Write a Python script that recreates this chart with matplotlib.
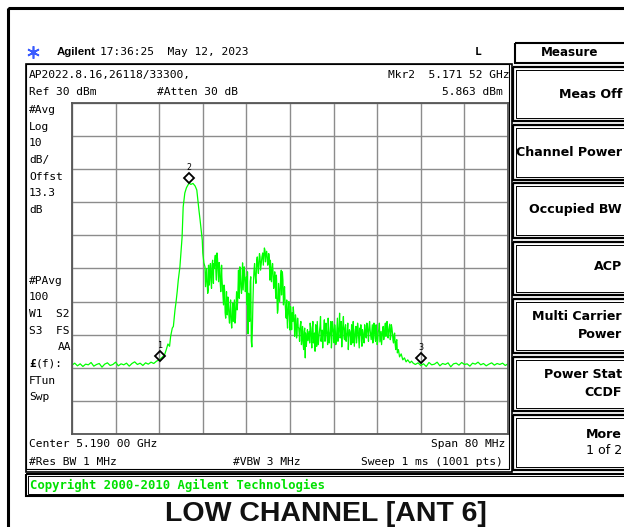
import matplotlib
matplotlib.use('Agg')
import numpy as np
import matplotlib.pyplot as plt
from matplotlib.patches import Rectangle
from matplotlib.transforms import offset_copy

# sweep: 5.150 - 5.230 GHz, ref 30 dBm, 10 dB/div
f_start, f_stop = 5150.0, 5230.0
ref_level, db_div = 30.0, 10.0

floor_lo_freq = [5150.0, 5150.5, 5151.0, 5151.5, 5152.0, 5152.5, 5153.0, 5153.5,
                 5154.0, 5154.5, 5155.0, 5155.5, 5156.0, 5156.5, 5157.0, 5157.5,
                 5158.0, 5158.5, 5159.0, 5159.5, 5160.0, 5160.5, 5161.0, 5161.5,
                 5162.0, 5162.5, 5163.0, 5163.5, 5164.0, 5164.5, 5165.0, 5165.5]
floor_lo_dbm = [-49.2, -48.6, -49.4, -48.8, -49.6, -48.9, -49.1, -48.4,
                -49.5, -49.0, -48.7, -49.8, -48.9, -48.5, -49.3, -49.0,
                -48.3, -49.4, -48.8, -49.1, -48.6, -49.5, -48.7, -48.2,
                -49.0, -48.6, -49.3, -48.5, -48.9, -48.3, -48.7, -48.0]

lobe_freq = [5166.0, 5166.5, 5167.0, 5167.3, 5167.6, 5167.9, 5168.1, 5168.4,
             5168.6, 5168.9, 5169.1, 5169.3, 5169.5, 5169.8, 5170.0, 5170.2,
             5170.4, 5170.7, 5171.0, 5171.3, 5171.5, 5171.8, 5172.2, 5172.6,
             5172.9, 5173.1, 5173.3, 5173.5, 5173.7, 5173.9, 5174.0, 5174.2]
lobe_dbm = [-47.6, -46.9, -46.0, -44.5, -42.8, -43.5, -40.5, -38.0,
            -37.5, -32.5, -30.0, -27.0, -23.5, -19.5, -15.0, -10.5,
            -1.4, 2.8, 4.4, 5.3, 5.8, 5.4, 5.7, 4.9,
            3.7, 0.5, -2.5, -5.3, -8.5, -11.4, -15.3, -18.3]

shoulder_freq = [5174.4, 5174.6, 5174.8, 5175.0, 5175.1, 5175.3, 5175.5, 5175.7,
                 5175.9, 5176.0, 5176.2, 5176.4, 5176.6, 5176.8, 5177.0, 5177.2,
                 5177.4, 5177.5, 5177.7, 5177.9, 5178.1, 5178.3, 5178.4, 5178.6,
                 5178.8, 5179.0, 5179.2, 5179.4, 5179.5, 5179.7, 5179.9, 5180.1,
                 5180.3, 5180.5, 5180.6, 5180.8, 5181.0, 5181.2, 5181.3, 5181.5,
                 5181.7, 5181.9, 5182.1, 5182.2, 5182.3, 5182.5, 5182.7, 5182.9,
                 5183.0, 5183.2, 5183.4, 5183.6, 5183.9, 5184.1, 5184.3, 5184.5,
                 5184.7, 5185.0, 5185.2, 5185.4, 5185.6, 5185.8, 5186.0, 5186.2,
                 5186.3, 5186.5, 5186.7, 5186.9, 5187.1, 5187.3, 5187.5, 5187.6,
                 5187.8, 5188.0, 5188.2, 5188.4, 5188.5, 5188.7, 5188.9, 5189.1,
                 5189.3, 5189.5, 5189.6, 5189.8, 5190.0, 5190.2, 5190.4, 5190.6,
                 5190.8, 5190.9, 5191.1, 5191.3, 5191.5, 5191.7, 5191.8, 5192.0,
                 5192.2, 5192.4, 5192.6, 5192.8, 5192.9, 5193.1, 5193.3]
shoulder_dbm = [-19.5, -23.0, -24.4, -26.5, -22.0, -20.5, -23.5, -19.0,
                -21.4, -18.5, -17.4, -20.8, -15.3, -20.5, -18.2, -24.4,
                -21.0, -22.6, -28.6, -25.0, -33.4, -29.0, -31.6, -28.6,
                -34.5, -32.5, -35.8, -35.0, -30.4, -33.0, -36.5, -31.0,
                -32.5, -23.5, -27.0, -19.5, -25.5, -24.4, -18.3, -23.0,
                -22.6, -26.0, -28.6, -21.0, -39.7, -33.4, -24.0, -42.0,
                -43.7, -30.0, -20.5, -22.0, -17.4, -19.5, -18.0, -16.5,
                -18.9, -15.3, -16.4, -14.4, -16.0, -15.9, -18.3, -17.0,
                -23.5, -20.0, -20.5, -21.4, -24.0, -25.5, -22.0, -28.6,
                -32.5, -27.0, -26.5, -20.5, -24.0, -23.5, -27.5, -30.4,
                -35.0, -36.5, -34.6, -30.0, -38.6, -34.0, -33.4, -31.6,
                -37.0, -38.6, -35.5, -39.7, -37.7, -40.0, -38.6, -36.0,
                -40.7, -42.5, -39.0, -47.0, -41.5, -40.7, -41.8]

# in-between sweep points of the shoulder (noise spikes)
shoulder_spk_freq = [5174.5, 5174.7, 5174.9, 5175.05, 5175.2, 5175.4, 5175.6, 5175.8,
                     5175.95, 5176.1, 5176.3, 5176.5, 5176.7, 5176.9, 5177.1, 5177.3,
                     5177.45, 5177.6, 5177.8, 5178.0, 5178.2, 5178.35, 5178.5, 5178.7,
                     5178.9, 5179.1, 5179.3, 5179.45, 5179.6, 5179.8, 5180.0, 5180.2,
                     5180.4, 5180.55, 5180.7, 5180.9, 5181.1, 5181.25, 5181.4, 5181.6,
                     5181.8, 5182.0, 5182.15, 5182.4, 5182.6, 5182.8, 5183.1, 5183.3,
                     5183.5, 5183.75, 5184.0, 5184.2, 5184.4, 5184.6, 5184.85, 5185.1,
                     5185.3, 5185.5, 5185.7, 5185.9, 5186.1, 5186.25, 5186.4, 5186.6,
                     5186.8, 5187.0, 5187.2, 5187.4, 5187.55, 5187.7, 5187.9, 5188.1,
                     5188.3, 5188.45, 5188.6, 5188.8, 5189.0, 5189.2, 5189.4, 5189.55,
                     5189.7, 5189.9, 5190.1, 5190.3, 5190.5, 5190.7, 5190.85, 5191.0,
                     5191.2, 5191.4, 5191.6, 5191.75, 5191.9, 5192.1, 5192.3, 5192.5,
                     5192.7, 5192.85, 5193.0, 5193.2]
shoulder_spk_dbm = [-25.5, -20.0, -27.5, -19.0, -25.0, -18.5, -26.0, -17.5,
                    -24.5, -20.0, -16.0, -23.5, -17.0, -24.0, -19.5, -27.0,
                    -19.0, -25.5, -31.0, -26.5, -35.0, -27.0, -34.0, -30.5,
                    -36.5, -29.5, -38.0, -32.0, -36.0, -29.5, -35.0, -27.0,
                    -30.0, -20.5, -29.0, -22.0, -27.5, -20.0, -26.5, -19.5,
                    -27.0, -22.5, -31.0, -27.5, -36.0, -22.5, -38.0, -24.0,
                    -18.5, -24.5, -16.5, -21.5, -15.5, -20.5, -16.5, -19.0,
                    -13.8, -18.0, -14.8, -19.0, -15.5, -21.0, -17.5, -24.0,
                    -18.5, -26.0, -21.0, -29.0, -24.0, -33.5, -24.5, -30.0,
                    -22.5, -28.0, -21.0, -31.0, -25.5, -33.0, -29.5, -38.0,
                    -32.0, -35.5, -31.5, -38.5, -36.0, -34.0, -40.5, -34.0,
                    -41.0, -35.0, -38.0, -42.0, -37.0, -43.0, -37.5, -44.5,
                    -38.0, -39.5, -43.5, -38.5]

plateau_freq = [5193.5, 5193.7, 5193.9, 5194.1, 5194.3, 5194.5, 5194.7, 5194.9,
                5195.1, 5195.3, 5195.5, 5195.7, 5195.9, 5196.1, 5196.3, 5196.5,
                5196.7, 5196.9, 5197.1, 5197.3, 5197.5, 5197.7, 5197.9, 5198.1,
                5198.3, 5198.5, 5198.7, 5198.9, 5199.1, 5199.3, 5199.5, 5199.7,
                5199.9, 5200.1, 5200.3, 5200.5, 5200.7, 5200.9, 5201.1, 5201.3,
                5201.5, 5201.7, 5201.9, 5202.1, 5202.3, 5202.5, 5202.7, 5202.9,
                5203.1, 5203.3, 5203.5, 5203.7, 5203.9, 5204.1, 5204.3, 5204.5,
                5204.7, 5204.9, 5205.1, 5205.3, 5205.5, 5205.7, 5205.9, 5206.1,
                5206.3, 5206.5, 5206.7, 5206.9, 5207.1, 5207.3, 5207.5, 5207.7,
                5207.9, 5208.1, 5208.3, 5208.5, 5208.7, 5208.9, 5209.1, 5209.3,
                5209.5, 5209.7, 5209.9, 5210.1, 5210.4, 5210.7, 5211.0, 5211.3,
                5211.6, 5212.0, 5212.3]
plateau_dbm = [-39.0, -36.5, -41.5, -38.0, -42.5, -39.5, -37.0, -43.5,
               -39.5, -41.0, -37.5, -42.0, -38.6, -40.5, -35.5, -41.8,
               -39.0, -43.0, -38.0, -40.1, -36.0, -41.0, -37.7, -42.5,
               -39.0, -41.8, -35.0, -40.0, -33.5, -39.5, -43.7, -37.0,
               -40.7, -38.0, -42.0, -39.5, -44.5, -38.5, -40.5, -37.0,
               -42.5, -39.0, -41.0, -37.5, -40.7, -38.0, -44.0, -40.0,
               -42.0, -38.5, -41.8, -37.0, -40.5, -36.5, -39.5, -37.5,
               -38.6, -41.5, -37.0, -40.7, -38.0, -42.0, -39.5, -41.8,
               -38.5, -42.2, -39.0, -40.7, -37.5, -40.0, -36.5, -39.5,
               -37.5, -39.2, -36.8, -40.5, -38.0, -41.8, -40.0, -43.0,
               -42.0, -45.5, -44.5, -46.7, -45.8, -47.6, -47.0, -48.2,
               -47.6, -48.5, -48.0]

plateau_spk_freq = [5193.6, 5193.8, 5194.0, 5194.2, 5194.4, 5194.6, 5194.8, 5195.0,
                    5195.2, 5195.4, 5195.6, 5195.8, 5196.0, 5196.2, 5196.4, 5196.6,
                    5196.8, 5197.0, 5197.2, 5197.4, 5197.6, 5197.8, 5198.0, 5198.2,
                    5198.4, 5198.6, 5198.8, 5199.0, 5199.2, 5199.4, 5199.6, 5199.8,
                    5200.0, 5200.2, 5200.4, 5200.6, 5200.8, 5201.0, 5201.2, 5201.4,
                    5201.6, 5201.8, 5202.0, 5202.2, 5202.4, 5202.6, 5202.8, 5203.0,
                    5203.2, 5203.4, 5203.6, 5203.8, 5204.0, 5204.2, 5204.4, 5204.6,
                    5204.8, 5205.0, 5205.2, 5205.4, 5205.6, 5205.8, 5206.0, 5206.2,
                    5206.4, 5206.6, 5206.8, 5207.0, 5207.2, 5207.4, 5207.6, 5207.8,
                    5208.0, 5208.2, 5208.4, 5208.6, 5208.8, 5209.0, 5209.2, 5209.4,
                    5209.6]
plateau_spk_dbm = [-42.5, -38.0, -44.0, -36.0, -40.0, -45.0, -38.5, -36.0,
                   -43.0, -39.0, -34.5, -40.5, -44.0, -38.5, -42.0, -36.5,
                   -40.0, -35.0, -42.5, -39.0, -44.0, -36.0, -39.5, -37.0,
                   -43.0, -38.5, -42.0, -37.5, -41.0, -36.0, -39.0, -34.5,
                   -41.5, -37.0, -40.0, -36.5, -41.0, -39.0, -43.0, -38.0,
                   -36.0, -43.5, -38.5, -42.5, -36.5, -41.0, -38.0, -37.0,
                   -43.5, -39.5, -42.5, -38.5, -41.0, -37.5, -42.0, -36.0,
                   -40.0, -39.0, -42.5, -36.5, -41.0, -37.0, -43.0, -39.0,
                   -36.5, -40.5, -43.0, -38.5, -41.5, -38.0, -40.5, -36.0,
                   -41.0, -38.0, -41.5, -37.0, -39.5, -42.5, -39.5, -44.5,
                   -41.5]

floor_hi_freq = [5212.6, 5213.0, 5213.5, 5214.0, 5214.5, 5215.0, 5215.5, 5216.0,
                 5216.5, 5217.0, 5217.5, 5218.0, 5218.5, 5219.0, 5219.5, 5220.0,
                 5220.5, 5221.0, 5221.5, 5222.0, 5222.5, 5223.0, 5223.5, 5224.0,
                 5224.5, 5225.0, 5225.5, 5226.0, 5226.5, 5227.0, 5227.5, 5228.0,
                 5228.5, 5229.0, 5229.5, 5230.0]
floor_hi_dbm = [-48.6, -49.0, -48.5, -49.3, -48.8, -49.6, -48.4, -49.1,
                -48.9, -48.3, -49.4, -48.7, -49.0, -48.5, -49.7, -48.8,
                -48.6, -49.2, -48.4, -49.0, -48.8, -49.5, -48.6, -48.9,
                -48.3, -49.1, -48.7, -49.4, -48.9, -48.5, -49.2, -48.7,
                -49.0, -48.6, -49.3, -48.8]

marker_names = ['1', '2', '3']
marker_freq = [5166.2, 5171.52, 5214.0]
marker_dbm = [-48.0, 5.863, -48.4]

freq = np.array(floor_lo_freq + lobe_freq + shoulder_freq + shoulder_spk_freq
                + plateau_freq + plateau_spk_freq + floor_hi_freq)
level = np.array(floor_lo_dbm + lobe_dbm + shoulder_dbm + shoulder_spk_dbm
                 + plateau_dbm + plateau_spk_dbm + floor_hi_dbm)
assert len(freq) == len(level)
order = np.argsort(freq, kind='stable')
freq, level = freq[order], level[order]

mono = 'DejaVu Sans Mono'
W, H = 624, 527

fig = plt.figure(figsize=(W / 100, H / 100), dpi=100)
bg = fig.add_axes([0, 0, 1, 1])
bg.set_xlim(0, W)
bg.set_ylim(H, 0)
bg.axis('off')


def box(x0, y0, x1, y1, lw=1.2):
    bg.add_patch(Rectangle((x0, y0), x1 - x0, y1 - y0, fill=False, lw=lw, ec='black'))


def txt(x, y, s, ha='left', size=8.1, **kw):
    kw.setdefault('family', mono)
    bg.text(x, y, s, ha=ha, va='center', fontsize=size, color='black', **kw)


# frames
box(8, 8, 660, 560, lw=2.2)
box(26, 64, 512, 472, lw=1.2)
box(26, 64, 509, 469, lw=0.8)
box(515, 43, 660, 63, lw=1.5)
box(26, 474, 660, 496, lw=1.5)
box(28, 476, 660, 494, lw=0.7)

keys = [(67, 121), (125, 180), (183, 238), (242, 295), (299, 353), (357, 411), (415, 470)]
for top, bot in keys:
    box(513, top, 660, bot, lw=1.6)
    box(516, top + 3, 660, bot - 3, lw=0.7)

# header
bg.plot(33, 52, marker=(6, 2, 0), ms=9, color='#3a5cff', mew=1.2)
bg.plot(33, 52, marker='o', ms=2.5, color='#3a5cff')
txt(57, 52, 'Agilent', family='Liberation Sans', fontweight='bold', size=8.2)
txt(100, 52, '17:36:25  May 12, 2023')
txt(478, 52, 'L', ha='center', fontweight='bold')
txt(570, 53, 'Measure', ha='center', family='DejaVu Sans', fontweight='bold', size=8.6)

txt(29, 75, 'AP2022.8.16,26118/33300,')
txt(509, 75, 'Mkr2  5.171 52 GHz', ha='right')
txt(29, 92, 'Ref 30 dBm')
txt(157, 92, '#Atten 30 dB')
txt(503, 92, '5.863 dBm', ha='right')

left_col = [('#Avg', 110), ('Log', 127), ('10', 143), ('dB/', 160), ('Offst', 177),
            ('13.3', 193), ('dB', 210), ('#PAvg', 281), ('100', 297),
            ('W1  S2', 314), ('S3  FS', 331), ('FTun', 381), ('Swp', 397)]
for s, y in left_col:
    txt(29, y, s)
txt(71, 347, 'AA', ha='right')
txt(29, 364, '£', fontweight='bold')
txt(36, 364, '(f):')

txt(29, 444, 'Center 5.190 00 GHz')
txt(505, 444, 'Span 80 MHz', ha='right')
txt(29, 462, '#Res BW 1 MHz')
txt(233, 462, '#VBW 3 MHz')
txt(503, 462, 'Sweep 1 ms (1001 pts)', ha='right')

bg.text(30, 485, 'Copyright 2000-2010 Agilent Technologies', ha='left', va='center',
        fontsize=8.8, family=mono, fontweight='bold', color='#00e000')

# soft keys
sk = dict(ha='right', family='DejaVu Sans', fontweight='bold', size=9.1)
txt(622, 94, 'Meas Off', **sk)
txt(622, 152, 'Channel Power', **sk)
txt(622, 210, 'Occupied BW', **sk)
txt(622, 267, 'ACP', **sk)
txt(622, 317, 'Multi Carrier', **sk)
txt(622, 334, 'Power', **sk)
txt(622, 375, 'Power Stat', **sk)
txt(622, 392, 'CCDF', **sk)
txt(622, 434, 'More', **sk)
txt(622, 451, '1 of 2', ha='right', family='DejaVu Sans', size=9.1)

bg.text(326, 521, 'LOW CHANNEL [ANT 6]', ha='center', va='baseline', fontsize=20.5,
        fontweight='bold', family='Liberation Sans', color='#111111')

# graticule + trace
ax = fig.add_axes([72 / W, 1 - 434 / H, 436 / W, 331 / H])
ax.set_xlim(f_start, f_stop)
ax.set_ylim(ref_level - 10 * db_div, ref_level)
ax.set_xticks([f_start + i * (f_stop - f_start) / 10 for i in range(11)])
ax.set_yticks([ref_level - i * db_div for i in range(11)])
ax.tick_params(length=0, labelbottom=False, labelleft=False)
ax.grid(color='#8c8c8c', lw=1)
for sp in ax.spines.values():
    sp.set_color('#555555')
    sp.set_linewidth(1.3)

ax.plot(freq, level, color='#00ff00', lw=0.9)

mk_trans = offset_copy(ax.transData, fig=fig, x=0, y=3.5, units='points')
ax.plot(marker_freq, marker_dbm, 'D', ms=5, mfc='none', mec='black', mew=1.3,
        transform=mk_trans)
for n, f, l in zip(marker_names, marker_freq, marker_dbm):
    ax.annotate(n, (f, l), xytext=(0, 11), textcoords='offset points',
                ha='center', va='center', fontsize=6, family=mono)

fig.savefig('out.png', dpi=100)
